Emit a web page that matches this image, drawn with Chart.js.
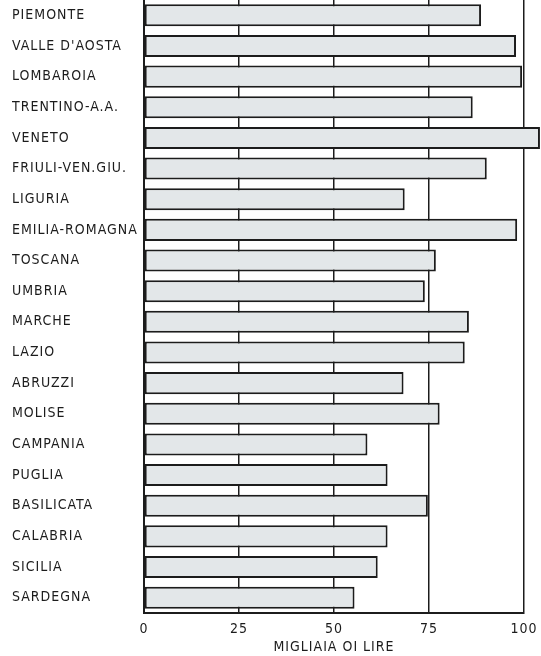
<!DOCTYPE html>
<html>
<head>
<meta charset="utf-8">
<script src="https://cdn.jsdelivr.net/npm/chart.js@4/dist/chart.umd.min.js"></script>
<style>
  html, body { margin: 0; padding: 0; background: #fff; }
  #wrap { width: 541px; height: 656px; }
</style>
</head>
<body>
<div id="wrap"><canvas id="chart" width="541" height="656"></canvas></div>
<script>
const regions = [
  "PIEMONTE", "VALLE D'AOSTA", "LOMBAROIA", "TRENTINO-A.A.", "VENETO",
  "FRIULI-VEN.GIU.", "LIGURIA", "EMILIA-ROMAGNA", "TOSCANA", "UMBRIA",
  "MARCHE", "LAZIO", "ABRUZZI", "MOLISE", "CAMPANIA",
  "PUGLIA", "BASILICATA", "CALABRIA", "SICILIA", "SARDEGNA"
];
const values = [
  88.7, 97.9, 99.5, 86.5, 104.2,
  90.2, 68.6, 98.2, 76.8, 73.9,
  85.5, 84.4, 68.3, 77.8, 58.8,
  64.1, 74.7, 64.1, 61.5, 55.4
];
const xTicks = [0, 25, 50, 75, 100];
const xTitle = "MIGLIAIA OI LIRE";

const ink = "#1c1c1c";
const labelFont = { family: "DejaVu Sans Condensed", size: 14, weight: "normal" };

// canvas letter spacing gets reset on resize, so set it before layout and draw
const spacing = {
  id: "spacing",
  beforeLayout(chart) { chart.ctx.letterSpacing = "1px"; },
  beforeDraw(chart) { chart.ctx.letterSpacing = "1px"; }
};

const ctx = document.getElementById("chart").getContext("2d");

new Chart(ctx, {
  type: "bar",
  data: {
    labels: regions,
    datasets: [{
      data: values,
      backgroundColor: "#e3e7e9",
      borderColor: ink,
      borderWidth: 2,
      borderSkipped: false,
      barPercentage: 0.72,
      categoryPercentage: 1,
      clip: false
    }]
  },
  options: {
    indexAxis: "y",
    responsive: false,
    animation: false,
    layout: { padding: { left: 12, right: 17, top: 0, bottom: 0 } },
    plugins: {
      legend: { display: false },
      tooltip: { enabled: false }
    },
    scales: {
      x: {
        min: 0,
        max: 100,
        afterBuildTicks(scale) {
          scale.ticks = xTicks.map(v => ({ value: v }));
        },
        afterFit(scale) {
          scale.height = 43;
          scale.paddingLeft = 0;
          scale.paddingRight = 0;
        },
        grid: { color: ink, lineWidth: 1.5, drawTicks: false },
        border: { color: ink, width: 2 },
        ticks: { color: ink, padding: 8, font: labelFont },
        title: {
          display: true,
          text: xTitle,
          color: ink,
          padding: { top: 0, bottom: 0 },
          font: labelFont
        }
      },
      y: {
        afterFit(scale) {
          scale.width = 132;
          scale.paddingTop = 0;
          scale.paddingBottom = 0;
        },
        grid: { display: false },
        border: { color: ink, width: 2 },
        ticks: { color: ink, crossAlign: "far", autoSkip: false, font: labelFont }
      }
    }
  },
  plugins: [spacing]
});
</script>
</body>
</html>
